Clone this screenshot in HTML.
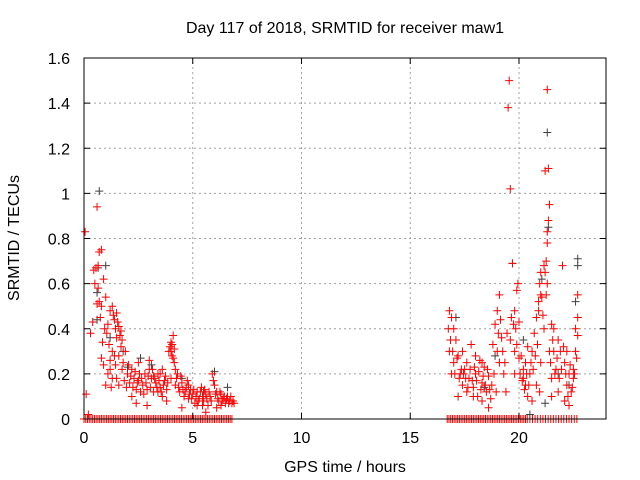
<!DOCTYPE html>
<html><head><meta charset="utf-8"><style>
body{margin:0;background:#fff}
svg{display:block;font-family:"Liberation Sans",sans-serif}
</style></head><body>
<svg id="c" width="640" height="480">
<rect width="640" height="480" fill="#fff"/>
<text x="345" y="33" font-size="16" text-anchor="middle">Day 117 of 2018, SRMTID for receiver maw1</text>
<text x="345" y="472" font-size="16" text-anchor="middle">GPS time / hours</text>
<text transform="translate(19,238) rotate(-90)" font-size="16" text-anchor="middle">SRMTID / TECUs</text>
<g id="grid"></g><g id="marks"></g><g id="axes"></g>
</svg>
<script>
const xTicks=[0,5,10,15,20];
const yTicks=[0,0.2,0.4,0.6,0.8,1,1.2,1.4,1.6];
const yTickLabels=["0","0.2","0.4","0.6","0.8","1","1.2","1.4","1.6"];
const redPts=[[0.05,0.83],[0.1,0.11],[0.3,0.38],[0.4,0.43],[0.45,0.66],[0.5,0.6],[0.6,0.94],[0.7,0.74],[0.8,0.75],[0.55,0.67],[0.65,0.58],[0.7,0.52],[0.75,0.45],[0.8,0.5],[0.9,0.62],[1.0,0.54],[1.1,0.42],[0.85,0.34],[0.9,0.24],[0.8,0.27],[1.2,0.48],[1.3,0.5],[1.4,0.44],[1.5,0.47],[1.6,0.41],[1.7,0.39],[1.75,0.35],[1.3,0.3],[1.4,0.28],[1.2,0.26],[1.5,0.36],[1.1,0.2],[1.0,0.15],[1.25,0.14],[1.5,0.18],[1.6,0.15],[1.8,0.25],[2.0,0.2],[2.1,0.16],[2.2,0.22],[2.3,0.18],[2.4,0.13],[2.5,0.17],[2.6,0.12],[2.7,0.15],[2.8,0.2],[2.9,0.13],[3.0,0.26],[3.1,0.18],[3.2,0.12],[3.3,0.16],[3.4,0.2],[3.5,0.14],[3.6,0.1],[3.7,0.17],[3.8,0.13],[3.9,0.3],[4.0,0.34],[4.05,0.28],[4.1,0.37],[4.15,0.25],[4.2,0.15],[4.3,0.2],[4.4,0.12],[4.5,0.16],[4.6,0.1],[4.7,0.14],[4.8,0.09],[4.9,0.13],[5.0,0.11],[5.1,0.07],[5.2,0.12],[5.3,0.09],[5.4,0.14],[5.5,0.08],[5.6,0.11],[5.7,0.06],[5.8,0.1],[5.9,0.2],[6.0,0.15],[6.1,0.12],[6.2,0.08],[6.3,0.11],[6.4,0.09],[6.5,0.07],[6.6,0.1],[6.7,0.08],[6.8,0.07],[2.2,0.1],[2.9,0.06],[3.5,0.2],[3.0,0.22],[2.5,0.25],[1.9,0.3],[3.6,0.22],[4.5,0.05],[5.6,0.03],[3.2,0.19],[3.4,0.12],[4.0,0.18],[4.8,0.15],[5.2,0.06],[6.3,0.06],
[0.65,0.68],[0.6,0.51],[0.95,0.4],[1.05,0.38],[1.15,0.33],[1.35,0.46],[1.45,0.4],[1.55,0.43],[1.65,0.37],[1.7,0.32],[1.2,0.22],[1.3,0.18],[1.45,0.24],[1.6,0.28],[1.75,0.22],[1.85,0.17],[1.95,0.14],[2.05,0.24],[2.15,0.19],[2.25,0.14],[2.35,0.21],[2.45,0.16],[2.55,0.2],[2.65,0.18],[2.75,0.11],[2.85,0.16],[2.95,0.19],[3.05,0.14],[3.15,0.22],[3.25,0.18],[3.35,0.14],[3.45,0.17],[3.55,0.12],[3.65,0.15],[3.75,0.19],[3.85,0.16],[3.95,0.32],[4.0,0.3],[4.05,0.33],[4.1,0.27],[4.15,0.31],[4.2,0.22],[4.25,0.18],[4.35,0.14],[4.45,0.19],[4.55,0.13],[4.65,0.12],[4.75,0.17],[4.85,0.11],[4.95,0.09],[5.05,0.13],[5.15,0.1],[5.25,0.08],[5.35,0.12],[5.45,0.1],[5.55,0.13],[5.65,0.09],[5.75,0.12],[5.85,0.08],[5.95,0.17],[6.05,0.11],[6.15,0.09],[6.25,0.12],[6.35,0.08],[6.45,0.1],[6.55,0.09],[6.65,0.07],[6.75,0.1],[6.85,0.08],[6.9,0.07],[6.1,0.05],[5.45,0.06],[2.4,0.07],[3.8,0.08],[0.2,0.02],
[16.8,0.48],[16.9,0.45],[17.0,0.4],[16.8,0.3],[17.1,0.35],[17.0,0.25],[17.2,0.28],[17.3,0.2],[16.9,0.2],[17.4,0.15],[17.5,0.22],[17.6,0.12],[17.7,0.18],[17.8,0.33],[17.9,0.14],[18.0,0.2],[18.1,0.1],[18.2,0.26],[18.3,0.16],[18.4,0.23],[18.5,0.12],[18.6,0.19],[18.7,0.09],[18.8,0.33],[18.9,0.42],[19.0,0.48],[19.1,0.55],[19.0,0.3],[19.2,0.36],[19.1,0.25],[19.3,0.2],[19.5,1.38],[19.55,1.5],[19.6,1.02],[19.7,0.69],[19.6,0.35],[19.8,0.48],[19.9,0.57],[19.85,0.4],[19.8,0.3],[20.0,0.43],[20.1,0.28],[20.2,0.22],[20.3,0.15],[20.4,0.1],[20.5,0.2],[20.6,0.3],[20.7,0.38],[20.8,0.45],[20.9,0.52],[20.95,0.6],[21.0,0.55],[21.1,0.46],[21.2,0.65],[21.25,0.7],[21.3,0.78],[21.3,0.83],[21.35,0.88],[21.35,1.11],[21.3,1.46],[21.2,1.1],[21.4,0.95],[21.5,0.42],[21.6,0.3],[21.7,0.22],[21.8,0.35],[21.9,0.3],[22.0,0.68],[22.1,0.25],[22.2,0.15],[22.3,0.2],[22.1,0.08],[22.4,0.12],[22.5,0.18],[22.6,0.3],[22.7,0.45],[22.7,0.55],[20.2,0.18],[20.4,0.32],[20.3,0.25],[18.0,0.28],[17.4,0.3],[19.4,0.12],[21.6,0.4],[22.2,0.3],[20.6,0.08],[21.0,0.25],[21.5,0.18],[17.2,0.1],[18.6,0.05],[22.3,0.06],[17.6,0.25],[18.3,0.08],[20.8,0.15],[21.8,0.12],[22.5,0.22],
[16.75,0.4],[16.85,0.35],[16.95,0.3],[17.05,0.2],[17.15,0.27],[17.25,0.18],[17.35,0.22],[17.45,0.2],[17.55,0.18],[17.65,0.14],[17.75,0.22],[17.85,0.17],[17.95,0.23],[18.05,0.17],[18.15,0.21],[18.25,0.13],[18.35,0.19],[18.45,0.15],[18.55,0.22],[18.65,0.13],[18.75,0.15],[18.85,0.2],[18.95,0.12],[19.05,0.38],[19.15,0.44],[19.25,0.3],[19.35,0.25],[19.45,0.38],[19.65,0.45],[19.75,0.42],[19.9,0.33],[20.0,0.27],[20.05,0.2],[20.15,0.17],[20.25,0.13],[20.35,0.2],[20.45,0.15],[20.55,0.25],[20.65,0.22],[20.75,0.28],[20.85,0.33],[20.9,0.48],[21.0,0.65],[21.05,0.54],[21.15,0.4],[21.25,0.55],[21.3,0.6],[21.4,0.3],[21.45,0.25],[21.55,0.35],[21.65,0.2],[21.75,0.27],[21.85,0.18],[21.95,0.22],[22.05,0.32],[22.15,0.2],[22.25,0.1],[22.35,0.24],[22.45,0.14],[22.55,0.2],[22.65,0.27],[22.6,0.4],[22.7,0.37],[20.95,0.12],[21.5,0.1],[19.8,0.2],[18.3,0.25],[17.9,0.1],[19.95,0.6],[21.15,0.68]];
const blackPts=[[0.7,1.01],[0.65,0.67],[1.0,0.68],[0.6,0.56],[0.6,0.44],[2.6,0.27],[3.1,0.24],[6.0,0.21],[6.6,0.14],[1.8,0.3],[21.3,1.27],[21.35,0.85],[21.05,0.62],[19.7,0.69],[22.7,0.71],[22.7,0.68],[22.6,0.52],[18.4,0.14],[21.2,0.07],[20.5,0.02],[1.2,0.36],[2.0,0.23],[4.5,0.18],[5.5,0.12],[17.1,0.45],[18.9,0.28],[20.2,0.35],[21.8,0.2],[22.3,0.15]];
const zeroTimes=[0.0,0.08,0.16,0.24,0.32,0.4,0.48,0.56,0.64,0.72,0.8,0.88,0.96,1.04,1.12,1.2,1.28,1.36,1.44,1.52,1.6,1.68,1.76,1.84,1.92,2.0,2.08,2.16,2.24,2.32,2.4,2.48,2.56,2.64,2.72,2.8,2.88,2.96,3.04,3.12,3.2,3.28,3.36,3.44,3.52,3.6,3.68,3.76,3.84,3.92,4.0,4.08,4.16,4.24,4.32,4.4,4.48,4.56,4.64,4.72,4.8,4.88,4.96,5.04,5.12,5.2,5.28,5.36,5.44,5.52,5.6,5.68,5.76,5.84,5.92,6.0,6.08,6.16,6.24,6.32,6.4,6.48,6.56,6.64,6.72,6.8,
16.7,16.78,16.86,16.94,17.02,17.1,17.18,17.26,17.34,17.42,17.5,17.58,17.66,17.74,17.82,17.9,17.98,18.06,18.14,18.22,18.3,18.38,18.46,18.54,18.62,18.7,18.78,18.86,18.94,19.02,19.1,19.18,19.26,19.34,19.42,19.5,19.58,19.66,19.74,19.82,19.9,19.98,20.06,20.14,20.22,20.3,20.38,20.5,20.62,20.74,20.86,20.98,21.1,21.22,21.34,21.46,21.58,21.7,21.82,21.94,22.06,22.18,22.3,22.42,22.54,22.66];
const X0=84,X1=606,Y0=419,Y1=58,XMAX=24,YMAX=1.6;
const sx=v=>X0+(X1-X0)*v/XMAX, sy=v=>Y0-(Y0-Y1)*v/YMAX;
const NS="http://www.w3.org/2000/svg";
function mk(tag,attrs,parent){const e=document.createElementNS(NS,tag);for(const k in attrs)e.setAttribute(k,attrs[k]);parent.appendChild(e);return e;}
const grid=document.getElementById('grid'),axes=document.getElementById('axes'),marks=document.getElementById('marks');
xTicks.forEach(t=>{
  if(t>0){const g=mk('line',{x1:sx(t),x2:sx(t),y1:Y0,y2:Y1,stroke:'#a0a0a0','stroke-dasharray':'2,3'},grid);
  
  }
  mk('line',{x1:sx(t),x2:sx(t),y1:Y0,y2:Y0-6,stroke:'#000'},axes);
  mk('line',{x1:sx(t),x2:sx(t),y1:Y1,y2:Y1+6,stroke:'#000'},axes);
  const l=mk('text',{x:sx(t),y:Y0+24,'font-size':16,'text-anchor':'middle'},axes);l.textContent=t;
  
  
});
yTicks.forEach((t,i)=>{
  if(t>0&&t<YMAX){const g=mk('line',{x1:X0,x2:X1,y1:sy(t),y2:sy(t),stroke:'#a0a0a0','stroke-dasharray':'2,3'},grid);
  
  }
  mk('line',{x1:X0,x2:X0+6,y1:sy(t),y2:sy(t),stroke:'#000'},axes);
  mk('line',{x1:X1,x2:X1-6,y1:sy(t),y2:sy(t),stroke:'#000'},axes);
  const l=mk('text',{x:X0-14,y:sy(t)+6,'font-size':16,'text-anchor':'end'},axes);l.textContent=yTickLabels[i];
  
  
});
const fr=mk('rect',{x:X0,y:Y1,width:X1-X0,height:Y0-Y1,fill:'none',stroke:'#000'},axes);


function plus(t,v,col){const x=sx(t),y=sy(v);const p=mk('path',{d:`M${x-4},${y}H${x+4}M${x},${y-4}V${y+4}`,stroke:col,'stroke-width':1},marks);return p;}
blackPts.forEach(p=>{const m=plus(p[0],p[1],'#404040');
  
  });
redPts.forEach(p=>{const m=plus(p[0],p[1],'#ff0000');
  
  });
zeroTimes.forEach(t=>{const m=plus(t,0,'#ff0000');
  
  });
</script>
</body></html>
